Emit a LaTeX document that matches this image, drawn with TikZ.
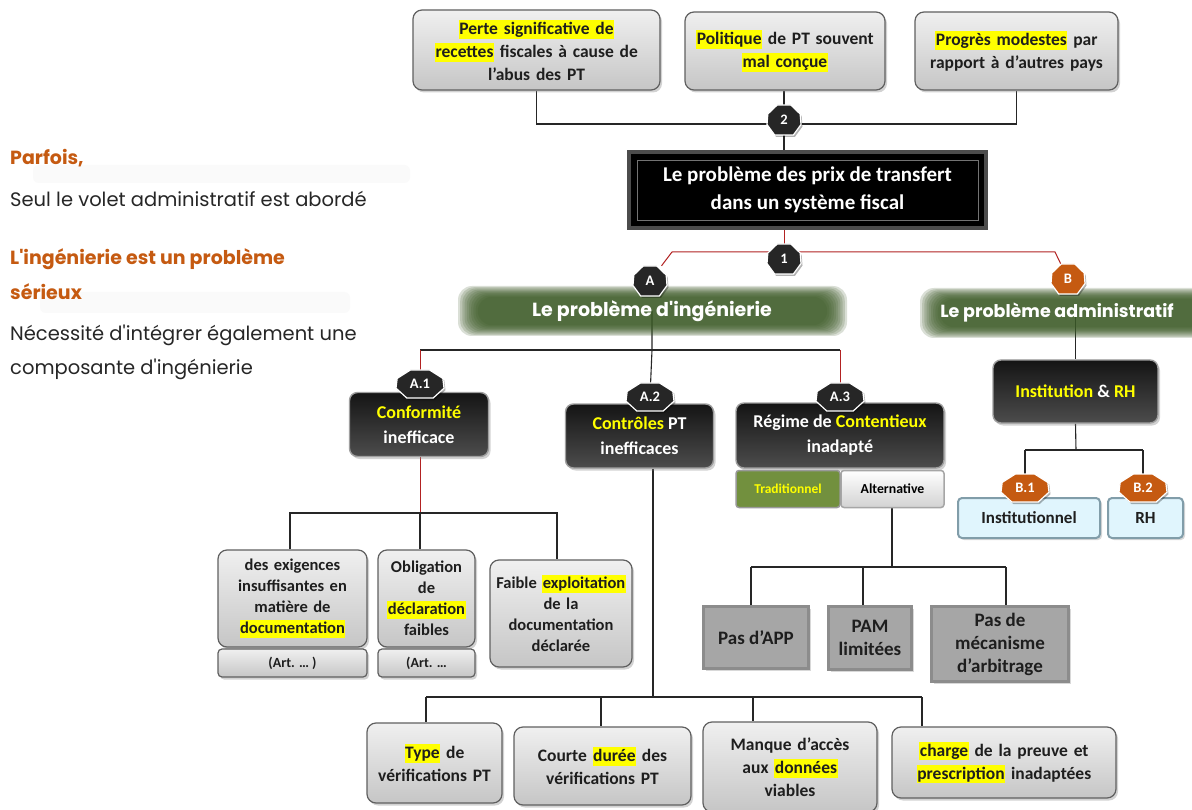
\documentclass[tikz,border=0pt]{standalone}
\usepackage{fontspec}
\setmainfont{Carlito}
\newfontfamily\lf{Poppins}
\usetikzlibrary{shadows,calc}
\pgfdeclarelayer{bgfill}
\pgfdeclarelayer{bg}
\pgfsetlayers{bgfill,bg,main}
\definecolor{dk}{HTML}{262626}
\definecolor{org}{HTML}{C55A11}
\definecolor{gbar}{HTML}{3B5A26}
\definecolor{redl}{HTML}{B22222}
\definecolor{txt}{HTML}{1E1E1E}
\definecolor{hl}{HTML}{FFFF00}
\definecolor{tradc}{HTML}{72903E}
\newcommand\hly[1]{{\setlength{\fboxsep}{0.5pt}\colorbox{hl}{\vrule width0pt height0.8em depth0.22em #1}}}
\newcommand\yel[1]{{\color{hl}#1}}
\newcommand\badge[7]{%
  \fill[black,opacity=0.3] (#2-0.4*#4+1.5,#3-#5+2) -- (#2+0.4*#4+1.5,#3-#5+2) -- (#2+0.95*#4+1.5,#3-0.4*#5+2) -- (#2+#4+1.5,#3+0.3*#5+2) -- (#2+0.55*#4+1.5,#3+#5+2) -- (#2-0.55*#4+1.5,#3+#5+2) -- (#2-#4+1.5,#3+0.3*#5+2) -- (#2-0.95*#4+1.5,#3-0.4*#5+2) -- cycle;
  \filldraw[fill=#6, draw=white, line width=1.2pt] (#2-0.4*#4,#3-#5) -- (#2+0.4*#4,#3-#5) -- (#2+0.95*#4,#3-0.4*#5) -- (#2+#4,#3+0.3*#5) -- (#2+0.55*#4,#3+#5) -- (#2-0.55*#4,#3+#5) -- (#2-#4,#3+0.3*#5) -- (#2-0.95*#4,#3-0.4*#5) -- cycle;
  \node[badgetext, minimum width=2*#4, minimum height=2*#5] (#1) at (#2,#3) {#7};
}
\newcommand\glowbar[4]{%
  \foreach \i in {0,...,9}{%
    \pgfmathsetmacro\dx{22-2.2*\i}%
    \pgfmathsetmacro\dy{12-1.2*\i}%
    \fill[gbar, opacity=0.19, rounded corners=14pt] (#1-\dx,#2-\dy) rectangle (#3+\dx,#4+\dy);
  }%
}
\tikzset{
  x=1pt, y=-1pt,
  badgetext/.style={inner sep=0pt, text=white, font=\bfseries\fontsize{14.5}{16}\selectfont},
  gbox/.style={rounded corners=9pt, top color=white!88!gray, bottom color=gray!45, draw=gray!75!black, line width=1.2pt,
    drop shadow={shadow xshift=2pt, shadow yshift=-2.5pt, opacity=0.35}, align=center, inner sep=0pt, text=txt,
    font=\bfseries\fontsize{17.5}{23}\selectfont},
  dbox/.style={rounded corners=8pt, top color=black!92, bottom color=black!70, draw=gray!75, line width=1.4pt,
    drop shadow={shadow xshift=2pt, shadow yshift=-2.5pt, opacity=0.35}, align=center, inner sep=0pt, text=white,
    font=\bfseries\fontsize{18}{25}\selectfont},
  fbox/.style={fill=black!35, draw=black!45, line width=3pt, align=center, inner sep=0pt, text=txt,
    drop shadow={shadow xshift=2pt, shadow yshift=-2.5pt, opacity=0.3},
    font=\bfseries\fontsize{19}{23}\selectfont},
  cbox/.style={rounded corners=4pt, fill=cyan!12!white, draw=cyan!25!gray, line width=2pt, align=center, inner sep=0pt,
    text=txt, drop shadow={shadow xshift=2pt, shadow yshift=-2pt, opacity=0.3}, font=\bfseries\fontsize{17}{20}\selectfont},
  bartext/.style={text=white, inner sep=0pt, font=\lf\bfseries\fontsize{19}{22}\selectfont},
  conn/.style={black!85, line width=1.1pt},
  rconn/.style={redl, line width=1pt},
  lt/.style={anchor=base west, inner sep=0pt},
  dfont/.style={font=\bfseries\fontsize{16.5}{21}\selectfont},
}
\begin{document}
\begin{tikzpicture}
\useasboundingbox (0,0) rectangle (1192,810);
\begin{pgfonlayer}{bgfill}
\fill[white] (0,0) rectangle (1192,810);
\fill[gray!4, rounded corners=6pt] (33,165) rectangle (410,183);
\fill[gray!4, rounded corners=6pt] (40,292) rectangle (350,313);
\end{pgfonlayer}
% left texts
\node[lt, text=org, font=\lf\bfseries\fontsize{19}{22}\selectfont] (p1) at (10,165) {Parfois,};
\node[lt, text=dk, font=\lf\fontsize{19.5}{22}\selectfont] (p2) at (10,207) {Seul le volet administratif est abordé};
\node[lt, text=org, font=\lf\bfseries\fontsize{19}{22}\selectfont] (p3) at (10,265) {L'ingénierie est un problème};
\node[lt, text=org, font=\lf\bfseries\fontsize{19}{22}\selectfont] (p3b) at (10,300) {sérieux};
\node[lt, text=dk, font=\lf\fontsize{19.5}{22}\selectfont] (p4) at (10,341) {Nécessité d'intégrer également une};
\node[lt, text=dk, font=\lf\fontsize{19.5}{22}\selectfont] (p4b) at (10,374) {composante d'ingénierie};

% glow bars
\glowbar{480}{298}{825}{324}
\glowbar{942}{300}{1200}{326}
\node[bartext] (gA) at (652,311) {Le problème d'ingénierie};
\node[bartext, font=\lf\bfseries\fontsize{17.5}{22}\selectfont] (gB) at (1057,313) {Le problème administratif};

% top boxes
\node[gbox, minimum width=247, minimum height=80, text width=240] (T1) at (536.5,50)
  {\hly{Perte significative de}\\\hly{recettes} fiscales à cause de\\l'abus des PT};
\node[gbox, minimum width=200, minimum height=78, text width=195] (T2) at (785,51)
  {\hly{Politique} de PT souvent\\\hly{mal conçue}};
\node[gbox, minimum width=203, minimum height=78, text width=200] (T3) at (1016.5,51)
  {\hly{Progrès modestes} par\\rapport à d'autres pays};

% main box
\node[fill=black, draw=black!70, line width=4pt, minimum width=357, minimum height=76, align=center, text=white,
  font=\bfseries\fontsize{21}{28}\selectfont, drop shadow={shadow xshift=2pt, shadow yshift=-2pt, opacity=0.3}] (main) at (807.5,190)
  {Le problème des prix de transfert\\dans un système fiscal};
\draw[black!55, line width=0.8pt] ($(main.north west)+(10,10)$) rectangle ($(main.south east)+(-10,-10)$);

% A boxes
\node[dbox, minimum width=139, minimum height=64] (conf) at (419,424.5) {\yel{Conformité}\\inefficace};
\node[dbox, minimum width=148, minimum height=64] (ctrl) at (639.5,436) {\yel{Contrôles} PT\\inefficaces};
\node[dbox, minimum width=208, minimum height=65] (cont) at (840,435.5) {Régime de \yel{Contentieux}\\inadapté};
\node[rounded corners=3pt, fill=tradc, draw=black!40, line width=1.5pt, minimum width=104, minimum height=37,
  inner sep=0pt, text=hl, font=\bfseries\fontsize{13.5}{15}\selectfont] (trad) at (788,489) {Traditionnel};
\node[rounded corners=3pt, top color=white, bottom color=gray!35, draw=gray!70, line width=1.5pt, minimum width=103, minimum height=37,
  inner sep=0pt, text=black, font=\bfseries\fontsize{13.8}{15}\selectfont] (alt) at (892.5,489) {Alternative};

% A.1 children
\node[gbox, dfont, minimum width=149, minimum height=97, text width=145] (D1) at (292.5,598.5)
  {des exigences\\insuffisantes en\\matière de\\\hly{documentation}};
\node[gbox, rounded corners=4pt, minimum width=149, minimum height=28, font=\bfseries\fontsize{14}{15}\selectfont] (art1) at (292.5,663) {(Art. … )};
\node[gbox, dfont, minimum width=97, minimum height=97, text width=95] (D2) at (426.5,598.5)
  {Obligation\\de\\\hly{déclaration}\\faibles};
\node[gbox, rounded corners=4pt, minimum width=97, minimum height=28, font=\bfseries\fontsize{14}{15}\selectfont] (art2) at (426.5,663) {(Art. …};
\node[gbox, dfont, minimum width=142, minimum height=107, text width=138] (D3) at (561,613.5)
  {Faible \hly{exploitation}\\de la\\documentation\\déclarée};

% Alternative children
\node[fbox, minimum width=105, minimum height=62] (F1) at (756,637.5) {Pas d'APP};
\node[fbox, minimum width=83, minimum height=63] (F2) at (870,638) {PAM\\limitées};
\node[fbox, minimum width=137, minimum height=75] (F3) at (1000,644) {Pas de\\mécanisme\\d'arbitrage};

% bottom boxes
\node[gbox, minimum width=135, minimum height=80, text width=132] (E1) at (434.5,763) {\hly{Type} de\\vérifications PT};
\node[gbox, minimum width=177, minimum height=78, text width=174] (E2) at (602.5,766) {Courte \hly{durée} des\\vérifications PT};
\node[gbox, minimum width=174, minimum height=90, text width=170] (E3) at (790,767) {Manque d'accès\\aux \hly{données}\\viables};
\node[gbox, minimum width=224, minimum height=71, text width=220] (E4) at (1004,762.5) {\hly{charge} de la preuve et\\\hly{prescription} inadaptées};

% B side
\node[dbox, minimum width=165, minimum height=63] (inst) at (1075.5,391.5) {\yel{Institution} \& \yel{RH}};
\node[cbox, minimum width=142, minimum height=40] (instl) at (1029,518) {Institutionnel};
\node[cbox, minimum width=75, minimum height=40] (rh) at (1145.5,518) {RH};

% badges
\badge{b2}{784}{120}{17}{15}{dk}{2}
\badge{b1}{784}{259}{17}{15}{dk}{1}
\badge{bA}{650}{281}{17}{15}{dk}{A}
\badge{bB}{1068}{279}{17}{15}{org}{B}
\badge{bA1}{420}{384}{24}{14}{dk}{A.1}
\badge{bA2}{650}{397}{24}{14}{dk}{A.2}
\badge{bA3}{840}{397}{24}{14}{dk}{A.3}
\badge{bB1}{1025}{488}{24}{14}{org}{B.1}
\badge{bB2}{1143}{488}{24}{14}{org}{B.2}

% coordinates
\coordinate (h2) at (784,124);
\coordinate (rl) at (672,252);
\coordinate (rr) at (1055,252);
\coordinate (hA) at (652,350);
\coordinate (h1) at (420,513);
\coordinate (h1l) at (290,513);
\coordinate (h1r) at (557,513);
\coordinate (hB) at (653,697);
\coordinate (v1) at (426,697);
\coordinate (v2) at (601,697);
\coordinate (v3) at (753,697);
\coordinate (v4) at (922,697);
\coordinate (hF) at (892,567);
\coordinate (f1) at (751,567);
\coordinate (f2) at (863,567);
\coordinate (f3) at (1006,567);
\coordinate (hC) at (1076,450);

\begin{pgfonlayer}{bg}
\draw[conn] (T1.south) |- (h2) -| (T3.south);
\draw[conn] (T2.south -| b2) -- (main.north -| b2);
\draw[rconn] (main.center -| b1) -- (b1);
\draw[rconn] (bA) -- (rl) -- (rr) -- (bB);
\draw[conn] (gA.center) -- (hA) -- (bA2);
\draw[conn] (bA1 |- hA) -- (bA3 |- hA);
\draw[rconn] (bA1 |- hA) -- (bA1);
\draw[rconn] (bA3 |- hA) -- (bA3);
\draw[rconn] (conf.south -| h1) -- (h1);
\draw[conn] (D1.north -| h1l) -- (h1l) -- (h1r) -- (D3.north -| h1r);
\draw[conn] (h1) -- (D2.north -| h1);
\draw[conn] (ctrl.south -| hB) -- (hB);
\draw[conn] (v1) -- (v4);
\draw[conn] (v1) -- (E1.north -| v1);
\draw[conn] (v2) -- (E2.north -| v2);
\draw[conn] (v3) -- (E3.north -| v3);
\draw[conn] (v4) -- (E4.north -| v4);
\draw[conn] (alt.south -| hF) -- (hF);
\draw[conn] (f1) -- (f3);
\draw[conn] (f1) -- (F1.north -| f1);
\draw[conn] (f2) -- (F2.north -| f2);
\draw[conn] (f3) -- (F3.north -| f3);
\draw[conn] (gB.center -| inst.north) -- (inst.north);
\draw[conn] (inst.south) -- (hC);
\draw[conn] (bB1 |- hC) -- (bB2 |- hC);
\draw[conn] (bB1 |- hC) -- (bB1);
\draw[conn] (bB2 |- hC) -- (bB2);
\end{pgfonlayer}
\end{tikzpicture}
\end{document}
